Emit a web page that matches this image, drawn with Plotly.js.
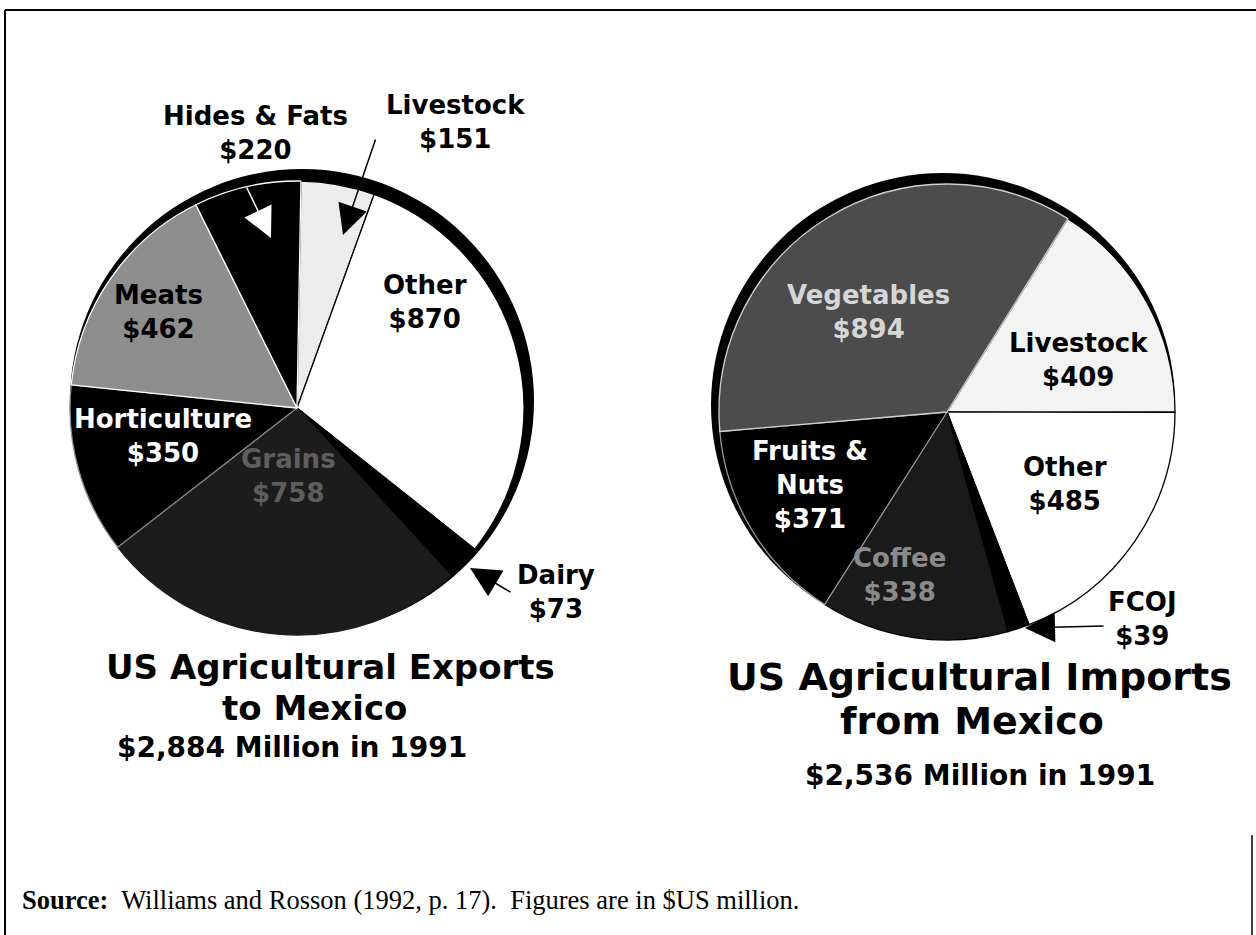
<!DOCTYPE html>
<html>
<head>
<meta charset="utf-8">
<script src="https://cdn.plot.ly/plotly-3.0.1.min.js"></script>
<style>
  html, body { margin: 0; padding: 0; background: #fff; }
  #chart { width: 1256px; height: 935px; }
</style>
</head>
<body>
<div id="chart"></div>
<script>
// ---- Data (US$ million, 1991) ----
const expLabels  = ['Livestock', 'Other', 'Dairy', 'Grains', 'Horticulture', 'Meats', 'Hides & Fats'];
const expValues  = [151, 870, 73, 758, 350, 462, 220];
const expColors  = ['#ececec', '#ffffff', '#000000', '#1c1c1c', '#000000', '#8e8e8e', '#000000'];
const expLines   = ['#000000', '#000000', '#000000', '#1c1c1c', '#8a8a8a', '#ffffff', '#ffffff'];

const impLabels  = ['Livestock', 'Other', 'FCOJ', 'Coffee', 'Fruits & Nuts', 'Vegetables'];
const impValues  = [409, 485, 39, 338, 371, 894];
const impColors  = ['#f3f3f3', '#ffffff', '#000000', '#1a1a1a', '#000000', '#4c4c4c'];
const impLines   = ['#000000', '#000000', '#000000', '#000000', '#9a9a9a', '#d0d0d0'];

const expTitle = ['US Agricultural Exports', 'to Mexico'];
const impTitle = ['US Agricultural Imports', 'from Mexico'];
const year = 1991;
const sourceNote = '<b>Source:</b>\u00a0 Williams and Rosson (1992, p. 17).\u00a0 Figures are in $US million.';

// ---- helpers ----
const W = 1256, H = 935;
const px = x => x / W;
const py = y => 1 - y / H;
const esc = s => s.replace(/&/g, '&amp;');
const total = arr => arr.reduce((a, b) => a + b, 0);
const fmt = v => v.toLocaleString('en-US');
const LBL = 'DejaVu Sans';

function slice(labelArr, valArr, name, brk) {
  const i = labelArr.indexOf(name);
  let n = esc(labelArr[i]);
  if (brk) n = n.replace(' &amp; ', ' &amp;<br>');
  return n + '<br>$' + valArr[i];
}

const traces = [
  {
    type: 'pie', labels: expLabels, values: expValues, sort: false,
    direction: 'clockwise', rotation: 1, textinfo: 'none', hoverinfo: 'label+value',
    marker: { colors: expColors, line: { color: expLines, width: 1.3 } },
    domain: { x: [px(70), px(524)], y: [py(635), py(181)] },
    showlegend: false
  },
  {
    type: 'pie', labels: impLabels, values: impValues, sort: false,
    direction: 'clockwise', rotation: 32, textinfo: 'none', hoverinfo: 'label+value',
    marker: { colors: impColors, line: { color: impLines, width: 1.3 } },
    domain: { x: [px(719), px(1175)], y: [py(640), py(184)] },
    showlegend: false
  }
];

function lab(text, x, y, color, size) {
  return { text: text, x: px(x), y: py(y), xref: 'paper', yref: 'paper',
    xanchor: 'center', yanchor: 'middle', showarrow: false, align: 'center',
    font: { family: LBL, size: size || 26, color: color || '#000', weight: 'bold' } };
}
function arrow(tipX, tipY, tailX, tailY, color) {
  return { text: '', x: px(tipX), y: py(tipY), xref: 'paper', yref: 'paper',
    showarrow: true, ax: tailX - tipX, ay: tailY - tipY, arrowhead: 2,
    arrowsize: 4, arrowwidth: 1.5, arrowcolor: color, standoff: 0, startstandoff: 0 };
}

const annotations = [
  // export labels
  lab(slice(expLabels, expValues, 'Hides & Fats'), 255, 133),
  lab(slice(expLabels, expValues, 'Livestock'), 455, 122),
  lab(slice(expLabels, expValues, 'Meats'), 158, 312, '#000'),
  lab(slice(expLabels, expValues, 'Other'), 425, 302),
  lab(slice(expLabels, expValues, 'Horticulture'), 163, 436, '#fff'),
  lab(slice(expLabels, expValues, 'Grains'), 288, 476, '#5e5e5e'),
  lab(slice(expLabels, expValues, 'Dairy'), 556, 592),
  // import labels
  lab(slice(impLabels, impValues, 'Vegetables'), 868, 312, '#d6d6d6'),
  lab(slice(impLabels, impValues, 'Livestock'), 1078, 360),
  lab(slice(impLabels, impValues, 'Other'), 1065, 484),
  lab(slice(impLabels, impValues, 'Fruits & Nuts', true), 810, 485, '#fff'),
  lab(slice(impLabels, impValues, 'Coffee'), 900, 575, '#8a8a8a'),
  lab(slice(impLabels, impValues, 'FCOJ'), 1142, 619),
  // arrows
  arrow(271, 238, 246, 186, '#ffffff'),
  arrow(343, 235, 376, 138, '#000000'),
  arrow(470, 568, 512, 593, '#000000'),
  arrow(1025, 628, 1105, 626, '#000000'),
  // titles
  lab(expTitle[0], 330, 667, '#000', 34),
  lab(expTitle[1], 314, 708, '#000', 34),
  lab('$' + fmt(total(expValues)) + ' Million in ' + year, 292, 747, '#000', 28),
  lab(impTitle[0], 979, 677, '#000', 38),
  lab(impTitle[1], 972, 721, '#000', 38),
  lab('$' + fmt(total(impValues)) + ' Million in ' + year, 980, 775, '#000', 28),
  // source
  { text: sourceNote, x: px(20), y: py(900), xref: 'paper', yref: 'paper',
    xanchor: 'left', yanchor: 'middle', showarrow: false,
    font: { family: 'Liberation Serif', size: 26.5, color: '#000' } }
];

const shapes = [
  // drop-shadow discs behind each pie
  { type: 'circle', xref: 'paper', yref: 'paper', layer: 'below',
    x0: px(70), x1: px(534), y0: py(633), y1: py(169),
    fillcolor: '#000', line: { width: 0 } },
  { type: 'circle', xref: 'paper', yref: 'paper', layer: 'below',
    x0: px(711), x1: px(1175), y0: py(637), y1: py(173),
    fillcolor: '#000', line: { width: 0 } },
  // frame
  { type: 'line', xref: 'paper', yref: 'paper', x0: px(5), x1: px(1256), y0: py(10), y1: py(10), line: { color: '#000', width: 2 } },
  { type: 'line', xref: 'paper', yref: 'paper', x0: px(5), x1: px(5), y0: py(10), y1: py(935), line: { color: '#000', width: 2 } },
  { type: 'line', xref: 'paper', yref: 'paper', x0: px(1252), x1: px(1252), y0: py(835), y1: py(935), line: { color: '#000', width: 1.5 } }
];

const layout = {
  width: W, height: H,
  margin: { l: 0, r: 0, t: 0, b: 0 },
  paper_bgcolor: '#fff', plot_bgcolor: '#fff',
  showlegend: false,
  annotations: annotations,
  shapes: shapes,
  font: { family: LBL }
};

Plotly.newPlot('chart', traces, layout, { displayModeBar: false, staticPlot: true });
</script>
</body>
</html>
